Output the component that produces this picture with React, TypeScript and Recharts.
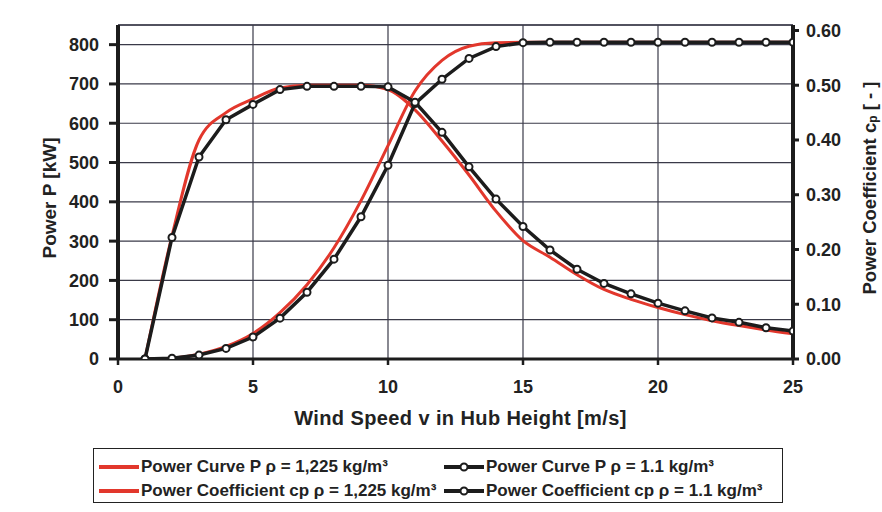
import React from 'react';
import { LineChart, Line, XAxis, YAxis, CartesianGrid, ReferenceLine, Legend, Label } from 'recharts';

const windSpeed = [1, 2, 3, 4, 5, 6, 7, 8, 9, 10, 11, 12, 13, 14, 15, 16, 17, 18, 19, 20, 21, 22, 23, 24, 25];
const powerRho1225 = [0, 2, 12, 32, 65, 118, 189, 283, 403, 543, 682, 760, 796, 805, 806, 806, 806, 806, 806, 806, 806, 806, 806, 806, 806];
const cpRho1225 = [0, 0.225, 0.4, 0.45, 0.475, 0.495, 0.5, 0.5, 0.5, 0.492, 0.455, 0.398, 0.336, 0.27, 0.216, 0.186, 0.154, 0.127, 0.109, 0.094, 0.081, 0.07, 0.061, 0.053, 0.046];
const powerRho11 = [0, 2, 10, 27, 56, 104, 170, 254, 362, 493, 650, 712, 765, 795, 805, 806, 806, 806, 806, 806, 806, 806, 806, 806, 806];
const cpRho11 = [0, 0.222, 0.369, 0.437, 0.465, 0.492, 0.498, 0.498, 0.498, 0.497, 0.469, 0.414, 0.351, 0.292, 0.242, 0.199, 0.164, 0.138, 0.119, 0.102, 0.088, 0.075, 0.067, 0.057, 0.051];

const xTicks = [0, 5, 10, 15, 20, 25];
const powerTicks = [0, 100, 200, 300, 400, 500, 600, 700, 800];
const cpTicks = [0, 0.1, 0.2, 0.3, 0.4, 0.5, 0.6];

const legendLabels = [
  'Power Curve P \u03c1 = 1,225 kg/m\u00b3',
  'Power Coefficient cp \u03c1 = 1,225 kg/m\u00b3',
  'Power Curve P \u03c1 = 1.1 kg/m\u00b3',
  'Power Coefficient cp \u03c1 = 1.1 kg/m\u00b3',
];

const data = windSpeed.map((v, i) => ({
  v,
  pRed: powerRho1225[i],
  cpRed: cpRho1225[i],
  pBlack: powerRho11[i],
  cpBlack: cpRho11[i],
}));

const RED = '#e2372c';
const BLACK = '#1c1c1c';
const GRID = '#3a3a48';
const FONT = '"Liberation Sans", Arial, sans-serif';

const tickStyle = { fill: '#222', fontSize: 18, fontWeight: 700, fontFamily: FONT };

const LegendBox = () => {
  const swatch = (color: string, marker: boolean) => (
    <svg width={44} height={12} style={{ display: 'block' }}>
      <line x1={2} y1={6} x2={42} y2={6} stroke={color} strokeWidth={4} />
      {marker && <circle cx={22} cy={6} r={3.5} fill="#fff" stroke={color} strokeWidth={2} />}
    </svg>
  );
  const items = [
    { label: legendLabels[0], color: RED, marker: false, left: 3, top: 18 },
    { label: legendLabels[1], color: RED, marker: false, left: 3, top: 42 },
    { label: legendLabels[2], color: BLACK, marker: true, left: 348, top: 18 },
    { label: legendLabels[3], color: BLACK, marker: true, left: 348, top: 42 },
  ];
  return (
    <div
      style={{
        position: 'relative',
        width: 690,
        height: 55,
        border: '1.5px solid #222',
        boxSizing: 'border-box',
        background: '#fff',
        fontFamily: FONT,
        fontWeight: 700,
        fontSize: 17,
        color: '#222',
      }}
    >
      {items.map((it, i) => (
        <div key={i} style={{ position: 'absolute', left: it.left, top: it.top - 11, display: 'flex', alignItems: 'center', whiteSpace: 'nowrap', height: 22 }}>
          {swatch(it.color, it.marker)}
          <span style={{ marginLeft: 0 }}>{it.label}</span>
        </div>
      ))}
    </div>
  );
};

export default function App() {
  return (
    <div style={{ position: 'absolute', left: 0, top: 0, width: 882, height: 512, background: '#fff' }}>
      <LineChart width={882} height={512} data={data} margin={{ top: 25, right: 0, bottom: 123, left: 0 }}>
        <CartesianGrid yAxisId="p" stroke={GRID} strokeWidth={1.2} />
        <XAxis
          type="number"
          dataKey="v"
          domain={[0, 25]}
          ticks={xTicks}
          allowDataOverflow
          height={30}
          tick={tickStyle}
          tickSize={6}
          tickMargin={15}
          axisLine={{ stroke: BLACK, strokeWidth: 3 }}
          tickLine={{ stroke: BLACK, strokeWidth: 2.5 }}
        >
          <Label
            content={(props: any) => {
              const vb = props.viewBox;
              return (
                <text x={vb.x + vb.width / 2 + 5} y={425} textAnchor="middle" fontFamily={FONT} fontWeight={700} fontSize={20} letterSpacing={0.4} fill="#222">
                  Wind Speed v in Hub Height [m/s]
                </text>
              );
            }}
          />
        </XAxis>
        <YAxis
          yAxisId="p"
          domain={[0, 850]}
          ticks={powerTicks}
          allowDataOverflow
          width={118}
          tick={tickStyle}
          tickSize={9}
          tickMargin={10}
          axisLine={{ stroke: BLACK, strokeWidth: 4 }}
          tickLine={{ stroke: BLACK, strokeWidth: 3 }}
        >
          <Label
            content={(props: any) => {
              const vb = props.viewBox;
              const cy = vb.y + vb.height / 2 + 6;
              return (
                <text x={49} y={cy} transform={`rotate(-90, 49, ${cy})`} textAnchor="middle" dominantBaseline="central" fontFamily={FONT} fontWeight={700} fontSize={19} fill="#222">
                  Power P [kW]
                </text>
              );
            }}
          />
        </YAxis>
        <YAxis
          yAxisId="cp"
          orientation="right"
          domain={[0, 0.61]}
          ticks={cpTicks}
          allowDataOverflow
          width={89}
          tick={tickStyle}
          tickFormatter={(v: number) => v.toFixed(2)}
          tickSize={6}
          tickMargin={7}
          axisLine={{ stroke: BLACK, strokeWidth: 4 }}
          tickLine={{ stroke: BLACK, strokeWidth: 3 }}
        >
          <Label
            content={() => {
              const cy = 188;
              return (
                <text x={869} y={cy} transform={`rotate(-90, 869, ${cy})`} textAnchor="middle" dominantBaseline="central" fontFamily={FONT} fontWeight={700} fontSize={18.5} fill="#222">
                  Power Coefficient c<tspan fontSize={12} dy={4}>p</tspan><tspan dy={-4}> [ - ]</tspan>
                </text>
              );
            }}
          />
        </YAxis>
        <ReferenceLine yAxisId="p" y={850} stroke={GRID} strokeWidth={1.5} />
        <Legend
          layout="horizontal"
          verticalAlign="middle"
          align="center"
          wrapperStyle={{ left: 93, top: 448, width: 690, height: 55 }}
          content={() => <LegendBox />}
        />
        <Line yAxisId="p" dataKey="pRed" type="monotone" stroke={RED} strokeWidth={3} dot={false} isAnimationActive={false} />
        <Line yAxisId="cp" dataKey="cpRed" type="monotone" stroke={RED} strokeWidth={3} dot={false} isAnimationActive={false} />
        <Line
          yAxisId="p"
          dataKey="pBlack"
          type="linear"
          stroke={BLACK}
          strokeWidth={3.5}
          dot={{ r: 3.5, fill: '#fff', stroke: BLACK, strokeWidth: 2 }}
          isAnimationActive={false}
        />
        <Line
          yAxisId="cp"
          dataKey="cpBlack"
          type="linear"
          stroke={BLACK}
          strokeWidth={3.5}
          dot={{ r: 3.5, fill: '#fff', stroke: BLACK, strokeWidth: 2 }}
          isAnimationActive={false}
        />
      </LineChart>
    </div>
  );
}
